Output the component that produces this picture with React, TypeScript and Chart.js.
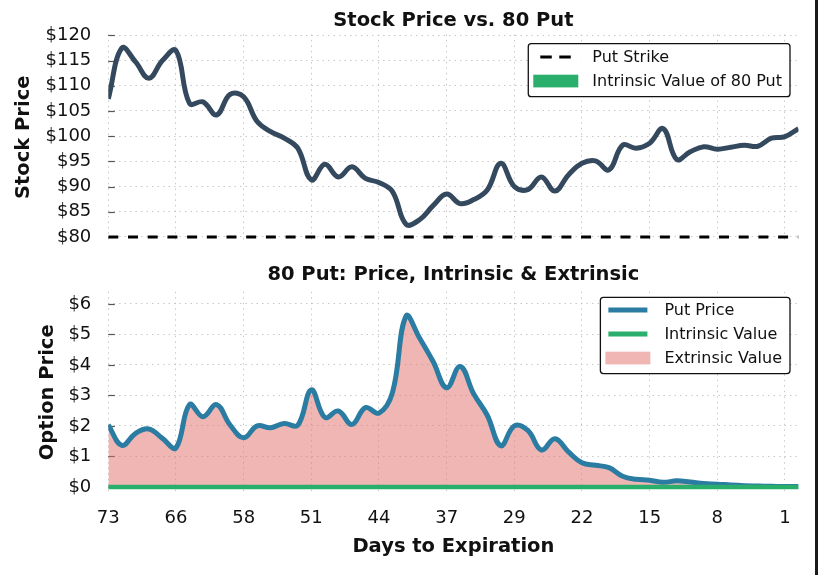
import React, { useEffect, useRef } from 'react';
import { Chart, registerables } from 'chart.js';

Chart.register(...registerables);

// ---------------- data ----------------
const strike = 80;
const tickLabels = ['73', '66', '58', '51', '44', '37', '29', '22', '15', '8', '1'];
const tickEvery = 5; // trading days between labelled ticks

const stockPrice = [
  107.4, 117.5, 114.8, 111.5, 115.0, 117.0, 106.5, 106.8, 104.2, 108.3,
  107.8, 102.9, 100.9, 99.6, 97.6, 91.3, 94.4, 91.9, 93.9, 91.6,
  90.8, 89.0, 82.5, 83.4, 86.2, 88.5, 86.6, 87.4, 89.3, 94.6,
  90.0, 89.4, 91.9, 89.1, 92.3, 94.6, 95.1, 93.3, 98.2, 97.6,
  98.6, 101.5, 95.4, 96.9, 97.9, 97.4, 97.8, 98.2, 98.0, 99.6,
  99.9, 101.5,
];

const putPrice = [
  2.03, 1.36, 1.75, 1.9, 1.59, 1.28, 2.7, 2.3, 2.7, 2.03,
  1.61, 2.0, 1.94, 2.08, 2.02, 3.18, 2.28, 2.49, 2.05, 2.6,
  2.42, 3.1, 5.6, 4.88, 4.11, 3.25, 3.95, 3.05, 2.35, 1.35,
  2.0, 1.85, 1.21, 1.58, 1.15, 0.79, 0.71, 0.63, 0.35, 0.25,
  0.22, 0.15, 0.2, 0.16, 0.11, 0.09, 0.06, 0.04, 0.03, 0.02,
  0.01, 0.01,
];

const stockTicks = [80, 85, 90, 95, 100, 105, 110, 115, 120];
const optionTicks = [0, 1, 2, 3, 4, 5, 6];

// ---------------- styling ----------------
const FONT = "'DejaVu Sans', 'Noto Sans', sans-serif";
const TEXT = '#111111';
const GRID = '#c9c9c9';
const STOCK_COLOR = '#34495e';
const PUT_COLOR = '#2a7ca2';
const GREEN = '#2aae6b';
const PINK = 'rgba(225,109,105,0.5)';

Chart.defaults.font.family = FONT;

const mplLegend = {
  id: 'mplLegend',
  afterDraw(chart: any, _args: any, opts: any) {
    if (!opts || !opts.items) return;
    const ctx = chart.ctx as CanvasRenderingContext2D;
    const area = chart.chartArea;
    ctx.save();
    ctx.font = `16px ${FONT}`;
    const items = opts.items as any[];
    const textW = Math.max(...items.map((it) => ctx.measureText(it.label).width));
    const rowH = 24;
    const w = 64 + textW + 8;
    const h = opts.firstRow + rowH * (items.length - 1) + opts.lastPad;
    const right = area.right - opts.rightInset;
    const left = right - w;
    const top = area.top + opts.topInset;
    const r = 3;
    ctx.beginPath();
    ctx.moveTo(left + r, top);
    ctx.lineTo(right - r, top);
    ctx.arcTo(right, top, right, top + r, r);
    ctx.lineTo(right, top + h - r);
    ctx.arcTo(right, top + h, right - r, top + h, r);
    ctx.lineTo(left + r, top + h);
    ctx.arcTo(left, top + h, left, top + h - r, r);
    ctx.lineTo(left, top + r);
    ctx.arcTo(left, top, left + r, top, r);
    ctx.closePath();
    ctx.fillStyle = 'rgba(255,255,255,0.92)';
    ctx.fill();
    ctx.lineWidth = 1.3;
    ctx.strokeStyle = '#111';
    ctx.stroke();
    items.forEach((it, i) => {
      const cy = top + opts.firstRow + i * rowH;
      const cx = left + 27.5;
      if (it.kind === 'rect') {
        ctx.fillStyle = it.color;
        ctx.fillRect(cx - 22.5, cy - 6.3, 45, 12.7);
      } else {
        ctx.beginPath();
        ctx.setLineDash(it.dash || []);
        ctx.lineWidth = it.width;
        ctx.strokeStyle = it.color;
        ctx.lineCap = 'butt';
        ctx.moveTo(cx - it.half, cy);
        ctx.lineTo(cx + it.half, cy);
        ctx.stroke();
        ctx.setLineDash([]);
      }
      ctx.fillStyle = TEXT;
      ctx.textBaseline = 'middle';
      ctx.textAlign = 'left';
      ctx.fillText(it.label, left + 64, cy + 1);
    });
    ctx.restore();
  },
};

const innerTicks = {
  id: 'innerTicks',
  beforeDatasetsDraw(chart: any) {
    const y = chart.scales.y;
    const area = chart.chartArea;
    const ctx = chart.ctx as CanvasRenderingContext2D;
    ctx.save();
    ctx.strokeStyle = '#555';
    ctx.lineWidth = 1.2;
    y.ticks.forEach((t: any) => {
      const py = Math.round(y.getPixelForValue(t.value)) + 0.5;
      ctx.beginPath();
      ctx.moveTo(area.left, py);
      ctx.lineTo(area.left + 6.5, py);
      ctx.stroke();
    });
    ctx.restore();
  },
};

const indices = stockPrice.map((_, i) => i);

function xScale(showTicks: boolean, height: number) {
  return {
    type: 'linear',
    min: 0,
    max: stockPrice.length - 1,
    afterBuildTicks: (scale: any) => {
      scale.ticks = tickLabels.map((_, k) => ({ value: k * tickEvery }));
    },
    afterFit: (scale: any) => {
      scale.height = height;
    },
    grid: { color: GRID, lineWidth: 1, drawTicks: false },
    border: { display: false, dash: [1.5, 4] },
    ticks: {
      display: showTicks,
      autoSkip: false,
      maxRotation: 0,
      padding: 15,
      color: TEXT,
      font: { size: 18, family: FONT },
      callback: (_v: any, idx: number) => tickLabels[idx],
    },
    title: showTicks
      ? {
          display: true,
          text: 'Days to Expiration',
          color: TEXT,
          font: { size: 19.5, weight: 'bold', family: FONT },
          padding: { top: 0, bottom: 0 },
        }
      : { display: false },
  };
}

function yScale(min: number, max: number, ticks: number[], title: string, titlePad: number) {
  return {
    type: 'linear',
    min,
    max,
    afterBuildTicks: (scale: any) => {
      scale.ticks = ticks.map((v) => ({ value: v }));
    },
    afterFit: (scale: any) => {
      scale.width = 108.3;
    },
    grid: { color: GRID, lineWidth: 1, drawTicks: false },
    border: { display: false, dash: [1.5, 4] },
    ticks: {
      autoSkip: false,
      padding: 17,
      color: TEXT,
      font: { size: 18, family: FONT },
      callback: (v: any) => '$' + v,
    },
    title: {
      display: true,
      text: title,
      color: TEXT,
      font: { size: 19.5, weight: 'bold', family: FONT },
      padding: { top: titlePad, bottom: 0 },
    },
  };
}

function StockChart() {
  const ref = useRef<HTMLCanvasElement | null>(null);
  useEffect(() => {
    if (!ref.current) return;
    const intrinsicStock = stockPrice.map((s) => Math.min(s, strike));
    const chart = new Chart(ref.current, {
      type: 'line',
      data: {
        labels: indices,
        datasets: [
          {
            label: 'Stock Price',
            data: stockPrice,
            borderColor: STOCK_COLOR,
            borderWidth: 5,
            pointRadius: 0,
            tension: 0.4,
            fill: false,
            order: 0,
          },
          {
            label: 'Put Strike',
            data: stockPrice.map(() => strike),
            borderColor: '#000',
            borderWidth: 3,
            borderDash: [10, 9.7],
            pointRadius: 0,
            fill: false,
            order: 1,
          },
          {
            label: 'Intrinsic Value of 80 Put',
            data: intrinsicStock,
            borderWidth: 0,
            borderColor: GREEN,
            backgroundColor: GREEN,
            pointRadius: 0,
            tension: 0.4,
            fill: 1,
            order: 2,
          },
        ] as any,
      },
      options: {
        animation: false,
        responsive: false,
        devicePixelRatio: 1,
        layout: { padding: { left: 0, right: 19.5, top: 0, bottom: 0 } },
        scales: {
          x: xScale(false, 0) as any,
          y: yScale(79.34, 120.2, stockTicks, 'Stock Price', 12.3) as any,
        },
        plugins: {
          legend: { display: false },
          tooltip: { enabled: false },
          title: {
            display: true,
            text: 'Stock Price vs. 80 Put',
            color: TEXT,
            fullSize: false,
            font: { size: 19.5, weight: 'bold', family: FONT },
            padding: { top: 9.3, bottom: 1.7 },
          },
          mplLegend: {
            rightInset: 8.5,
            topInset: 9.3,
            firstRow: 13.3,
            lastPad: 15.7,
            items: [
              { kind: 'line', label: 'Put Strike', color: '#000', width: 3, dash: [11.5, 7.5], half: 15.5 },
              { kind: 'rect', label: 'Intrinsic Value of 80 Put', color: GREEN },
            ],
          },
        } as any,
      },
      plugins: [mplLegend, innerTicks],
    });
    return () => chart.destroy();
  }, []);
  return (
    <canvas
      ref={ref}
      width={818}
      height={268}
      style={{ position: 'absolute', left: 0, top: 0, width: 818, height: 268 }}
    />
  );
}

function OptionChart() {
  const ref = useRef<HTMLCanvasElement | null>(null);
  useEffect(() => {
    if (!ref.current) return;
    const intrinsic = stockPrice.map((s) => Math.max(strike - s, 0));
    const chart = new Chart(ref.current, {
      type: 'line',
      data: {
        labels: indices,
        datasets: [
          {
            label: 'Put Price',
            data: putPrice,
            borderColor: PUT_COLOR,
            borderWidth: 5,
            pointRadius: 0,
            tension: 0.4,
            fill: false,
            order: 1,
          },
          {
            label: 'Intrinsic Value',
            data: intrinsic,
            borderColor: GREEN,
            borderWidth: 4.5,
            pointRadius: 0,
            fill: false,
            order: 0,
          },
          {
            label: 'Extrinsic Value',
            data: putPrice,
            borderWidth: 0,
            borderColor: PINK,
            backgroundColor: PINK,
            pointRadius: 0,
            tension: 0.4,
            fill: 1,
            order: 2,
          },
        ] as any,
      },
      options: {
        animation: false,
        responsive: false,
        devicePixelRatio: 1,
        layout: { padding: { left: 0, right: 19.5, top: 0, bottom: 16.6 } },
        scales: {
          x: xScale(true, 65.4) as any,
          y: yScale(-0.2, 6.4, optionTicks, 'Option Price', 36.3) as any,
        },
        plugins: {
          legend: { display: false },
          tooltip: { enabled: false },
          title: {
            display: true,
            text: '80 Put: Price, Intrinsic & Extrinsic',
            color: TEXT,
            fullSize: false,
            font: { size: 19.5, weight: 'bold', family: FONT },
            padding: { top: 13.3, bottom: 5 },
          },
          mplLegend: {
            rightInset: 8.5,
            topInset: 5.6,
            firstRow: 12.7,
            lastPad: 15.6,
            items: [
              { kind: 'line', label: 'Put Price', color: PUT_COLOR, width: 5, half: 19.5 },
              { kind: 'line', label: 'Intrinsic Value', color: GREEN, width: 5, half: 19.5 },
              { kind: 'rect', label: 'Extrinsic Value', color: PINK },
            ],
          },
        } as any,
      },
      plugins: [mplLegend, innerTicks],
    });
    return () => chart.destroy();
  }, []);
  return (
    <canvas
      ref={ref}
      width={818}
      height={325}
      style={{ position: 'absolute', left: 0, top: 250, width: 818, height: 325 }}
    />
  );
}

export default function App() {
  return (
    <div
      style={{
        position: 'fixed',
        left: 0,
        top: 0,
        width: 818,
        height: 575,
        background: '#ffffff',
        overflow: 'hidden',
      }}
    >
      <StockChart />
      <OptionChart />
      <div
        style={{
          position: 'absolute',
          left: 815,
          top: 0,
          width: 3,
          height: 575,
          background: '#1a1a1a',
        }}
      />
    </div>
  );
}
